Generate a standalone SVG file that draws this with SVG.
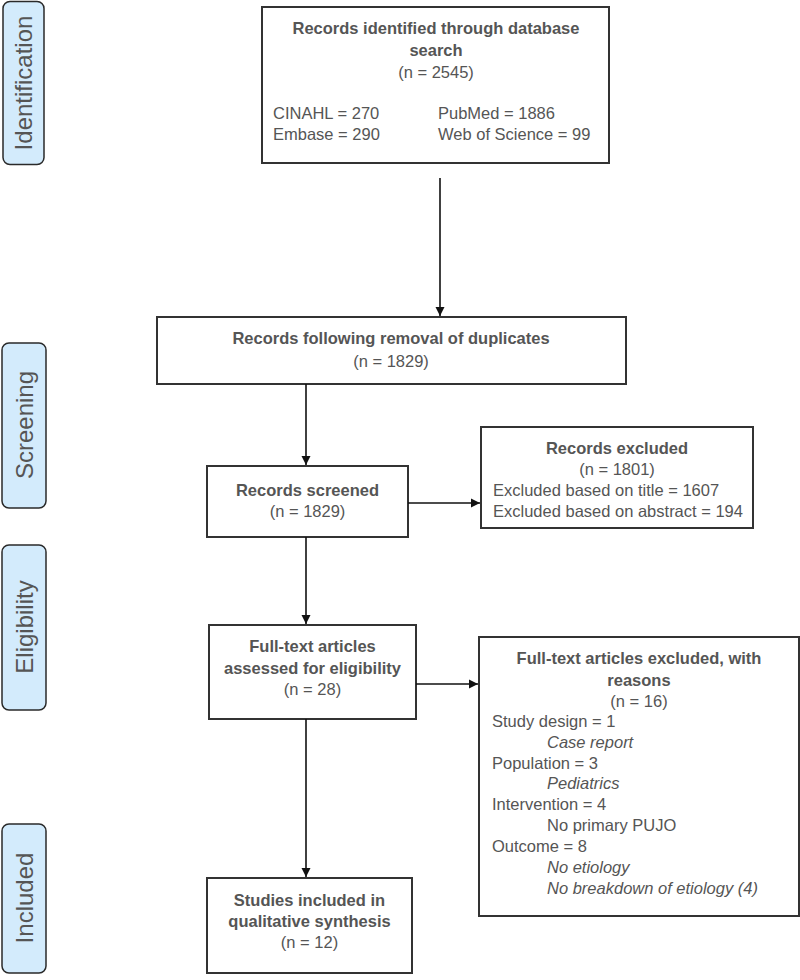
<svg xmlns="http://www.w3.org/2000/svg" width="800" height="980" viewBox="0 0 800 980">
<style>
.box{fill:#fff;stroke:#333;stroke-width:2}
.lab{fill:#d3ebfc;stroke:#2a2a2a;stroke-width:1.5}
text{font-family:"Liberation Sans",Arial,sans-serif;font-size:16.5px;fill:#555}
.b{font-weight:bold}
.i{font-style:italic}
.c{text-anchor:middle}
.lt{font-size:24px;text-anchor:middle}
.con{stroke:#111;stroke-width:1.6;fill:none;marker-end:url(#ah)}
</style>
<defs>
<marker id="ah" markerWidth="10" markerHeight="10" refX="9" refY="5" orient="auto" markerUnits="userSpaceOnUse">
<path d="M0,0.5 L9,5 L0,9.5 Z" fill="#111"/>
</marker>
</defs>
<rect width="800" height="980" fill="#fff"/>
<g id="lab-identification"><rect class="lab" x="3" y="1.5" width="41" height="163" rx="7"/><text class="lt" transform="translate(32,83) rotate(-90)">Identification</text></g>
<g id="lab-screening"><rect class="lab" x="2" y="343" width="44" height="165" rx="7"/><text class="lt" transform="translate(33,425) rotate(-90)">Screening</text></g>
<g id="lab-eligibility"><rect class="lab" x="2" y="545" width="44" height="165" rx="7"/><text class="lt" transform="translate(33,627) rotate(-90)">Eligibility</text></g>
<g id="lab-included"><rect class="lab" x="2" y="824" width="44" height="149" rx="7"/><text class="lt" transform="translate(33,898) rotate(-90)">Included</text></g>

<g id="identified"><rect class="box" x="262" y="7" width="347" height="156"/>
<text class="b c" x="436" y="34">Records identified through database</text>
<text class="b c" x="436" y="56">search</text>
<text class="c" x="436" y="78">(n = 2545)</text>
<text x="273" y="119">CINAHL = 270</text>
<text x="273" y="140">Embase = 290</text>
<text x="438" y="119">PubMed = 1886</text>
<text x="438" y="140">Web of Science = 99</text>
</g>
<g id="dedup"><rect class="box" x="157" y="317" width="469" height="67"/>
<text class="b c" x="391" y="344">Records following removal of duplicates</text>
<text class="c" x="391" y="367">(n = 1829)</text>
</g>
<g id="screened"><rect class="box" x="207" y="466" width="201" height="71"/>
<text class="b c" x="307.5" y="496">Records screened</text>
<text class="c" x="307.5" y="517">(n = 1829)</text>
</g>
<g id="excluded1"><rect class="box" x="481" y="427" width="272" height="101"/>
<text class="b c" x="617" y="454">Records excluded</text>
<text class="c" x="617" y="475">(n = 1801)</text>
<text x="493" y="496">Excluded based on title = 1607</text>
<text x="493" y="517">Excluded based on abstract = 194</text>
</g>
<g id="fulltext"><rect class="box" x="209" y="625" width="207" height="94"/>
<text class="b c" x="312.5" y="652">Full-text articles</text>
<text class="b c" x="312.5" y="674">assessed for eligibility</text>
<text class="c" x="312.5" y="695">(n = 28)</text>
</g>
<g id="excluded2"><rect class="box" x="479" y="637" width="320" height="279"/>
<text class="b c" x="639" y="664">Full-text articles excluded, with</text>
<text class="b c" x="639" y="686">reasons</text>
<text class="c" x="639" y="707">(n = 16)</text>
<text x="492" y="727">Study design = 1</text>
<text class="i" x="547" y="748">Case report</text>
<text x="492" y="769">Population = 3</text>
<text class="i" x="547" y="789">Pediatrics</text>
<text x="492" y="810">Intervention = 4</text>
<text x="547" y="831">No primary PUJO</text>
<text x="492" y="852">Outcome = 8</text>
<text class="i" x="547" y="873">No etiology</text>
<text class="i" x="547" y="894">No breakdown of etiology (4)</text>
</g>
<g id="included"><rect class="box" x="207" y="878" width="205" height="95"/>
<text class="b c" x="309.5" y="906">Studies included in</text>
<text class="b c" x="309.5" y="927">qualitative synthesis</text>
<text class="c" x="309.5" y="948">(n = 12)</text>
</g>

<g id="connectors">
<line class="con" x1="440" y1="178" x2="440" y2="316"/>
<line class="con" x1="306" y1="384" x2="306" y2="465"/>
<line class="con" x1="408" y1="503" x2="480" y2="503"/>
<line class="con" x1="306" y1="537" x2="306" y2="624"/>
<line class="con" x1="416" y1="684" x2="478" y2="684"/>
<line class="con" x1="306" y1="719" x2="306" y2="877"/>
</g>
</svg>
